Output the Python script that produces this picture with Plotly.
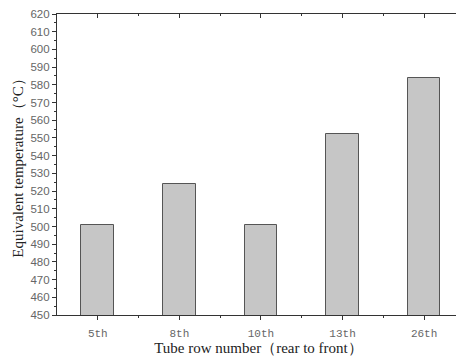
import plotly.graph_objects as go

categories = ["5th", "8th", "10th", "13th", "26th"]
temps = [501, 524, 501, 552, 584]
y_ticks = list(range(450, 621, 10))

serif = "Liberation Serif, Times New Roman, serif"

fig = go.Figure()
fig.add_trace(go.Bar(
    x=list(range(len(categories))), y=temps, width=0.4,
    marker=dict(color="#c6c6c6", line=dict(color="#555555", width=1)),
    showlegend=False,
))

# page body has an 8px default margin, so the figure is sized to fit inside the window
fig.update_layout(
    width=456, height=351,
    margin=dict(l=49, r=4, t=6, b=44),
    paper_bgcolor="white", plot_bgcolor="white",
    font=dict(family=serif, color="#333333"),
    bargap=0,
    xaxis=dict(
        range=[-0.5, 4.44], automargin=False, ticklabelstandoff=4,
        tickmode="array", tickvals=list(range(len(categories))), ticktext=categories,
        ticks="outside", ticklen=4, tickwidth=1, tickcolor="#333",
        minor=dict(tickvals=[0.5, 1.5, 2.5, 3.5], ticks="outside", ticklen=2, tickcolor="#333"),
        showline=True, linecolor="#333", linewidth=1.2,
        showgrid=False, zeroline=False,
        tickfont=dict(family="Liberation Mono, monospace", size=11, color="#666"),
        title=dict(text="Tube row number（rear to front）", font=dict(size=15, color="#222"), standoff=3),
    ),
    yaxis=dict(
        range=[450, 620], automargin=False, ticklabeloverflow="allow",
        tickmode="array", tickvals=y_ticks, ticktext=[str(v) for v in y_ticks],
        ticks="outside", ticklen=4, tickwidth=1, tickcolor="#333",
        minor=dict(dtick=5, ticks="outside", ticklen=2, tickcolor="#333"),
        showline=True, linecolor="#333", linewidth=1.2,
        showgrid=False, zeroline=False,
        tickfont=dict(family="Liberation Sans, Arial, sans-serif", size=11.5, color="#666"),
        title=dict(text="Equivalent temperature（°C）", font=dict(size=15, color="#222"), standoff=3),
    ),
    xaxis2=dict(
        overlaying="x", side="top", range=[-0.5, 4.44], automargin=False,
        tickmode="array", tickvals=list(range(len(categories))), showticklabels=False,
        ticks="inside", ticklen=4, tickcolor="#333",
        minor=dict(tickvals=[0.5, 1.5, 2.5, 3.5], ticks="inside", ticklen=2, tickcolor="#333"),
        showline=True, linecolor="#333", linewidth=1.2, showgrid=False, zeroline=False,
    ),
    yaxis2=dict(
        overlaying="y", side="right", range=[450, 620], automargin=False,
        tickmode="array", tickvals=y_ticks, showticklabels=False,
        ticks="inside", ticklen=4, tickcolor="#333",
        minor=dict(dtick=5, ticks="inside", ticklen=2, tickcolor="#333"),
        showline=True, linecolor="#333", linewidth=1.2, showgrid=False, zeroline=False,
    ),
)
fig.add_trace(go.Scatter(x=[None], y=[None], xaxis="x2", yaxis="y2", showlegend=False, hoverinfo="skip"))

fig.write_html("out.html")
